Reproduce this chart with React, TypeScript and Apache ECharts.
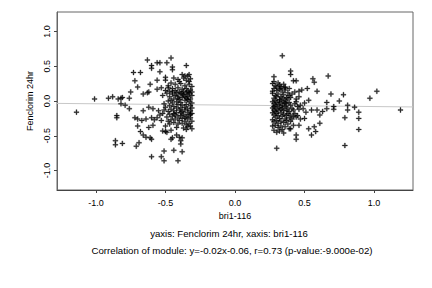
import { useEffect, useRef } from "react";
import * as echarts from "echarts";

const xTicks = [-1.0, -0.5, 0.0, 0.5, 1.0];
const yTicks = [-1.0, -0.5, 0.0, 0.5, 1.0];
const axisMin = -1.28;
const axisMax = 1.28;
const fitSlope = -0.02;
const fitIntercept = -0.06;
const xTitle = "bri1-116";
const yTitle = "Fenclorim 24hr";
const subtitle1 = "yaxis: Fenclorim 24hr, xaxis: bri1-116";
const subtitle2 = "Correlation of module: y=-0.02x-0.06, r=0.73 (p-value:-9.000e-02)";

const leftSparse: number[][] = [
  [-1.14, -0.16], [-1.01, 0.03], [-0.91, 0.04], [-0.88, 0.06], [-0.85, -0.21], [-0.85, -0.24],
  [-0.84, 0.03], [-0.82, 0.04], [-0.81, 0.05], [-0.82, -0.04], [-0.79, -0.06], [-0.76, -0.11],
  [-0.76, 0.04], [-0.75, 0.13], [-0.73, 0.41], [-0.68, 0.41], [-0.72, 0.29], [-0.7, 0.2],
  [-0.72, -0.24], [-0.7, -0.26], [-0.7, -0.36], [-0.68, -0.44], [-0.67, -0.28], [-0.66, 0.1],
  [-0.66, -0.14], [-0.66, -0.49], [-0.63, 0.59], [-0.63, 0.12], [-0.62, -0.38], [-0.61, -0.53],
  [-0.6, 0.51], [-0.56, 0.55], [-0.54, 0.55], [-0.46, 0.62], [-0.49, 0.55], [-0.45, 0.49],
  [-0.45, 0.45], [-0.35, 0.51], [-0.54, 0.42], [-0.6, 0.47], [-0.5, 0.34], [-0.5, 0.3],
  [-0.56, 0.3], [-0.38, 0.38], [-0.36, 0.36], [-0.34, 0.36], [-0.33, 0.38], [-0.33, 0.28],
  [-0.4, 0.28], [-0.53, 0.19], [-0.61, 0.24], [-0.62, 0.13], [-0.56, 0.17], [-0.48, 0.19],
  [-0.47, 0.14], [-0.62, -0.09], [-0.59, -0.11], [-0.55, -0.14], [-0.54, -0.2], [-0.64, -0.26],
  [-0.6, -0.24], [-0.58, -0.27], [-0.56, -0.24], [-0.53, -0.28], [-0.5, -0.36], [-0.52, -0.43],
  [-0.49, -0.45], [-0.46, -0.42], [-0.45, -0.53], [-0.42, -0.49], [-0.38, -0.53], [-0.39, -0.57],
  [-0.35, -0.41], [-0.32, -0.36], [-0.69, -0.6], [-0.81, -0.61], [-0.86, -0.63], [-0.71, -0.65],
  [-0.6, -0.8], [-0.53, -0.8], [-0.51, -0.72], [-0.51, -0.86], [-0.44, -0.71], [-0.41, -0.86],
  [-0.38, -0.73], [-0.39, -0.62], [-0.86, -0.57], [-0.59, -0.35], [-0.64, -0.52], [-0.6, -0.55],
  [-0.46, -0.55], [-0.4, -0.52], [-0.5, -0.44],
];

const leftCore: number[][] = [
  [-0.44, 0.33], [-0.41, 0.31], [-0.37, 0.33], [-0.35, 0.3], [-0.32, 0.32], [-0.46, 0.26],
  [-0.43, 0.24], [-0.39, 0.25], [-0.36, 0.22], [-0.33, 0.24], [-0.31, 0.21], [-0.48, 0.22],
  [-0.45, 0.18], [-0.41, 0.19], [-0.38, 0.17], [-0.35, 0.18], [-0.32, 0.16], [-0.5, 0.15],
  [-0.43, 0.15], [-0.34, 0.14], [-0.31, 0.13],
  [-0.52, 0.08], [-0.49, 0.11], [-0.47, 0.06], [-0.45, 0.1], [-0.44, 0.03], [-0.42, 0.12],
  [-0.41, 0.07], [-0.4, 0.02], [-0.39, 0.11], [-0.38, 0.05], [-0.37, 0.09], [-0.36, 0.01],
  [-0.35, 0.12], [-0.34, 0.06], [-0.33, 0.1], [-0.32, 0.03], [-0.31, 0.08], [-0.33, -0.01],
  [-0.36, 0.07], [-0.39, -0.02], [-0.42, -0.01], [-0.45, -0.03], [-0.48, 0.0], [-0.51, -0.04],
  [-0.46, 0.01], [-0.43, 0.08], [-0.4, 0.13], [-0.37, 0.14], [-0.34, 0.02], [-0.31, -0.03],
  [-0.35, -0.05], [-0.38, -0.06], [-0.41, -0.05], [-0.44, -0.08], [-0.47, -0.07], [-0.5, -0.09],
  [-0.32, -0.07], [-0.36, -0.09], [-0.39, -0.1], [-0.42, -0.1], [-0.34, -0.11], [-0.31, -0.1],
  [-0.45, 0.13], [-0.33, 0.12], [-0.38, 0.1], [-0.41, 0.04], [-0.35, 0.04],
  [-0.51, -0.13], [-0.48, -0.15], [-0.46, -0.12], [-0.44, -0.14], [-0.42, -0.17], [-0.4, -0.13],
  [-0.38, -0.15], [-0.36, -0.13], [-0.34, -0.16], [-0.32, -0.14], [-0.31, -0.18], [-0.33, -0.2],
  [-0.35, -0.22], [-0.37, -0.19], [-0.39, -0.21], [-0.41, -0.23], [-0.43, -0.2], [-0.45, -0.22],
  [-0.47, -0.19], [-0.49, -0.23], [-0.52, -0.18], [-0.46, -0.27], [-0.43, -0.26], [-0.4, -0.28],
  [-0.38, -0.25], [-0.36, -0.29], [-0.34, -0.26], [-0.32, -0.24], [-0.31, -0.29], [-0.33, -0.32],
  [-0.35, -0.34], [-0.38, -0.32], [-0.41, -0.33], [-0.44, -0.31], [-0.47, -0.33], [-0.42, -0.38],
  [-0.37, -0.39], [-0.34, -0.37], [-0.31, -0.4], [-0.48, -0.29], [-0.39, -0.17], [-0.36, -0.24],
  [-0.44, -0.18], [-0.32, -0.19],
];

const rightSparse: number[][] = [
  [0.34, 0.65], [0.4, 0.43], [0.4, 0.38], [0.42, 0.29], [0.44, 0.29], [0.56, 0.32], [0.57, 0.27],
  [0.67, 0.36], [0.59, 0.14], [0.69, 0.1], [0.78, 0.09], [0.75, 0.0], [0.97, 0.04], [1.02, 0.14],
  [1.19, -0.13], [0.81, -0.06], [0.81, -0.13], [0.86, -0.09], [0.89, -0.16], [0.89, -0.25],
  [0.79, -0.24], [0.89, -0.41], [0.79, -0.64], [0.71, -0.08], [0.71, -0.12], [0.66, -0.11],
  [0.66, -0.02], [0.63, -0.15], [0.61, -0.2], [0.55, -0.13], [0.59, -0.13], [0.61, -0.32],
  [0.53, -0.4], [0.57, -0.37], [0.58, -0.44], [0.55, -0.49], [0.44, -0.49], [0.44, -0.55],
  [0.3, -0.68], [0.4, -0.4], [0.42, -0.35], [0.46, -0.35], [0.5, -0.25], [0.44, -0.23],
  [0.47, -0.26], [0.51, -0.16], [0.49, -0.11], [0.52, 0.18], [0.48, 0.16], [0.46, 0.14],
  [0.43, 0.13], [0.53, 0.01], [0.5, -0.03], [0.28, 0.35], [0.28, 0.28], [0.32, 0.23],
  [0.36, 0.19], [0.39, 0.18], [0.46, 0.06], [0.44, 0.03],
];

const rightCore: number[][] = [
  [0.27, 0.25], [0.29, 0.22], [0.31, 0.26], [0.33, 0.21], [0.35, 0.24], [0.28, 0.18], [0.3, 0.15],
  [0.32, 0.17], [0.34, 0.13], [0.36, 0.16], [0.38, 0.12], [0.27, 0.11], [0.29, 0.08], [0.31, 0.1],
  [0.33, 0.06], [0.35, 0.09], [0.37, 0.05], [0.39, 0.08], [0.41, 0.1], [0.28, 0.04], [0.3, 0.06],
  [0.32, 0.02], [0.34, 0.04], [0.36, 0.01], [0.38, 0.03], [0.4, 0.05], [0.27, 0.14], [0.3, 0.2],
  [0.33, 0.18], [0.36, 0.2], [0.29, 0.01],
  [0.27, -0.01], [0.28, -0.04], [0.29, -0.07], [0.3, -0.02], [0.31, -0.05], [0.32, -0.09],
  [0.33, -0.03], [0.34, -0.06], [0.35, -0.01], [0.36, -0.08], [0.37, -0.04], [0.38, -0.1],
  [0.39, -0.02], [0.4, -0.06], [0.41, -0.11], [0.43, -0.04], [0.45, -0.08], [0.42, -0.13],
  [0.27, -0.1], [0.28, -0.13], [0.3, -0.11], [0.31, -0.14], [0.33, -0.12], [0.35, -0.14],
  [0.37, -0.13], [0.39, -0.15], [0.29, -0.15], [0.34, -0.1], [0.36, -0.03], [0.32, 0.0],
  [0.28, -0.08], [0.44, -0.01], [0.46, -0.12], [0.47, -0.06],
  [0.27, -0.17], [0.28, -0.2], [0.29, -0.23], [0.3, -0.18], [0.31, -0.21], [0.32, -0.25],
  [0.33, -0.17], [0.34, -0.22], [0.35, -0.19], [0.36, -0.26], [0.37, -0.21], [0.38, -0.18],
  [0.39, -0.24], [0.4, -0.2], [0.42, -0.22], [0.27, -0.27], [0.28, -0.3], [0.3, -0.28],
  [0.31, -0.32], [0.33, -0.29], [0.35, -0.31], [0.37, -0.28], [0.38, -0.33], [0.4, -0.29],
  [0.29, -0.35], [0.31, -0.38], [0.33, -0.36], [0.34, -0.41], [0.36, -0.37], [0.28, -0.42],
  [0.3, -0.45], [0.32, -0.43], [0.35, -0.46], [0.27, -0.36], [0.39, -0.4], [0.41, -0.26],
  [0.43, -0.18], [0.45, -0.21],
];

const FONT = "'Liberation Sans', Arial, Helvetica, sans-serif";
const PLUS = "path://M2,0H3V2H5V3H3V5H2V3H0V2H2Z";

export default function App() {
  const ref = useRef<HTMLDivElement>(null);
  useEffect(() => {
    if (!ref.current) return;
    const chart = echarts.init(ref.current, undefined, { renderer: "svg" });
    const points = [...leftSparse, ...leftCore, ...rightSparse, ...rightCore];
    const fitLine = [axisMin, axisMax].map((x) => [x, fitSlope * x + fitIntercept]);
    const fmt = (v: number) => (Math.abs(v) < 1e-9 ? "0.0" : v.toFixed(1));
    chart.setOption({
      animation: false,
      backgroundColor: "#ffffff",
      textStyle: { fontFamily: FONT },
      grid: {
        left: 57, top: 12, right: 19, bottom: 98,
        show: true, borderColor: "#666", borderWidth: 1, backgroundColor: "transparent",
      },
      xAxis: {
        type: "value", min: axisMin, max: axisMax,
        name: xTitle, nameLocation: "middle", nameGap: 21,
        nameTextStyle: { fontSize: 9, color: "#000", fontFamily: FONT },
        axisLine: { show: true, onZero: false, lineStyle: { color: "#444", width: 1 } },
        axisTick: { show: true, inside: false, length: 3, customValues: xTicks, lineStyle: { color: "#444" } },
        axisLabel: { show: true, customValues: xTicks, formatter: fmt, fontSize: 9, color: "#000", margin: 8, fontFamily: FONT },
        splitLine: { show: false },
      },
      yAxis: {
        type: "value", min: axisMin, max: axisMax,
        name: yTitle, nameLocation: "middle", nameGap: 21, nameRotate: 90,
        nameTextStyle: { fontSize: 9, color: "#000", fontFamily: FONT },
        axisLine: { show: true, onZero: false, lineStyle: { color: "#666", width: 1 } },
        axisTick: { show: true, inside: false, length: 3, customValues: yTicks, lineStyle: { color: "#444" } },
        axisLabel: { show: true, customValues: yTicks, formatter: fmt, rotate: 90, fontSize: 9, color: "#000", margin: 6, fontFamily: FONT },
        splitLine: { show: false },
      },
      series: [
        {
          type: "line", data: fitLine, showSymbol: false, symbol: "none",
          lineStyle: { color: "#c8c8c8", width: 1 }, silent: true, z: 1,
        },
        {
          type: "scatter", data: points, symbol: PLUS, symbolSize: 5,
          itemStyle: { color: "#000", borderColor: "#000", borderWidth: 0.35 }, silent: true, z: 2,
        },
      ],
      graphic: [
        { type: "text", x: 229, y: 233, style: { text: subtitle1, fontSize: 9.6, fill: "#000", textAlign: "center", textVerticalAlign: "middle", fontFamily: FONT } },
        { type: "text", x: 232, y: 250, style: { text: subtitle2, fontSize: 9.7, fill: "#000", textAlign: "center", textVerticalAlign: "middle", fontFamily: FONT } },
      ],
    });
    return () => chart.dispose();
  }, []);
  return <div ref={ref} style={{ position: "absolute", left: 0, top: 0, width: 432, height: 288 }} />;
}
